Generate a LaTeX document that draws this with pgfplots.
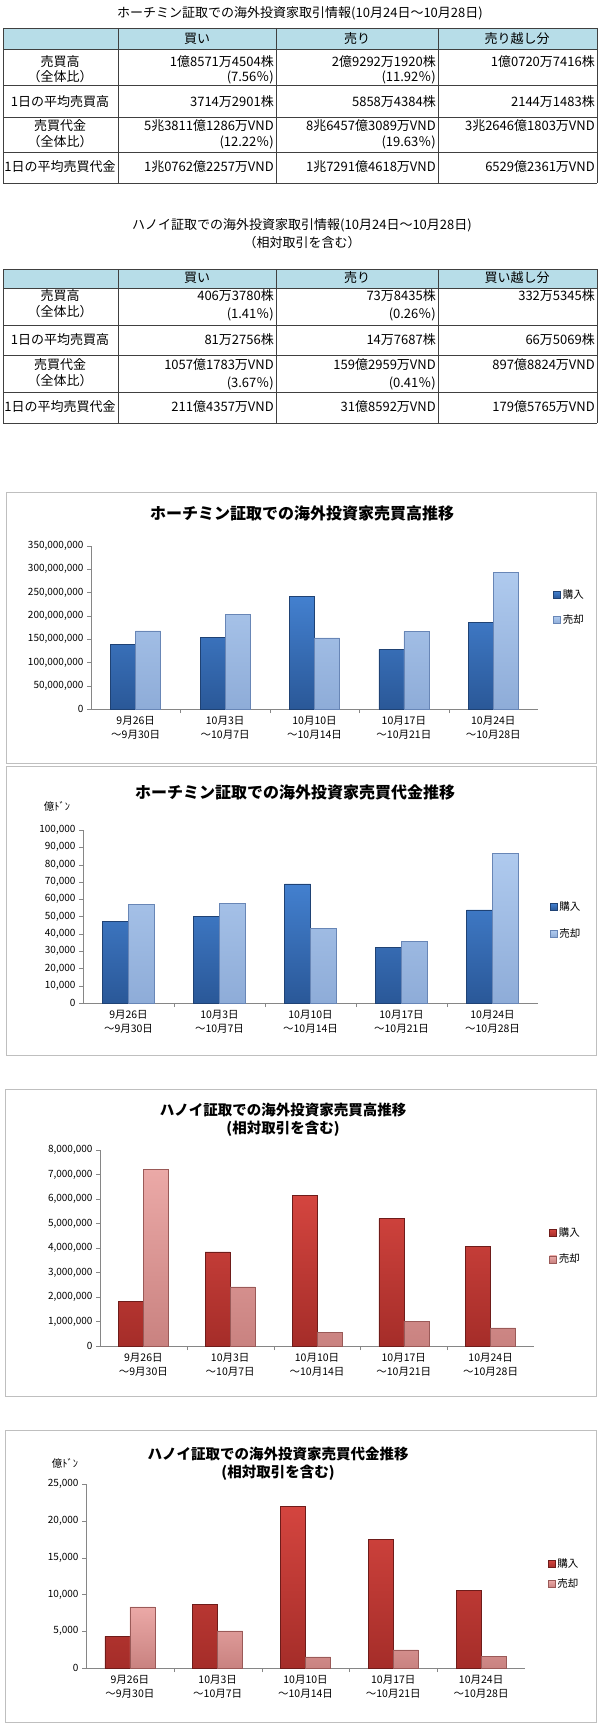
\documentclass[border=0pt]{standalone}
\usepackage{fontspec}
\setmainfont{Noto Sans CJK JP}
\usepackage{pgfplots}
\pgfplotsset{compat=1.18}

\definecolor{hdr}{HTML}{B7DDE8}
\definecolor{tline}{HTML}{404040}
\definecolor{boxgray}{HTML}{BFBFBF}
\definecolor{axisgray}{HTML}{868686}
\definecolor{bluetop}{HTML}{4380CF}
\definecolor{bluebot}{HTML}{2A5898}
\definecolor{blueedge}{HTML}{1F4274}
\definecolor{ltbluetop}{HTML}{AFCAEE}
\definecolor{ltbluebot}{HTML}{8EACD8}
\definecolor{ltblueedge}{HTML}{6886B6}
\definecolor{redtop}{HTML}{D4453F}
\definecolor{redbot}{HTML}{A52D29}
\definecolor{rededge}{HTML}{6E1C1A}
\definecolor{pinktop}{HTML}{EBA9A7}
\definecolor{pinkbot}{HTML}{C98280}
\definecolor{pinkedge}{HTML}{9A5A58}

\newcommand\tf{\fontsize{13}{15}\selectfont}
% table cells: right aligned value / centred text
\newcommand\R[3]{\node[anchor=east,inner sep=0pt,font=\tf] at (#1,-#2) {#3};}
\newcommand\C[3]{\node[inner sep=0pt,font=\tf] at (#1,-#2) {#3};}

\pgfplotsset{
  barchart/.style={
    scale only axis, anchor=south west,
    ybar=0pt,
    xmin=-0.5, xmax=4.5, ymin=0,
    scaled y ticks=false,
    axis x line*=bottom, axis y line*=left,
    axis line style={draw=axisgray},
    tick align=outside, major tick length=4pt,
    tick style={draw=axisgray},
    xtick={0.5,1.5,2.5,3.5}, xticklabels={},
    extra x ticks={0,1,2,3,4},
    extra x tick labels={{9月26日\\～9月30日},{10月3日\\～10月7日},{10月10日\\～10月14日},{10月17日\\～10月21日},{10月24日\\～10月28日}},
    extra x tick style={tick style={draw=none}},
    xticklabel style={align=center, font=\fontsize{10.5}{14}\selectfont},
    yticklabel style={font=\fontsize{10}{12}\selectfont},
    legend cell align=left,
    legend style={draw=none, fill=none, inner sep=0pt, anchor=west,
      font=\fontsize{10.5}{12}\selectfont},
    legend image code/.code={\draw[#1,line width=0.4pt] (0pt,-3.5pt) rectangle (7pt,3.5pt);},
  },
  buyblue/.style={draw=blueedge, line width=0.5pt, top color=bluetop, bottom color=bluebot},
  sellblue/.style={draw=ltblueedge, line width=0.5pt, top color=ltbluetop, bottom color=ltbluebot},
  buyred/.style={draw=rededge, line width=0.5pt, top color=redtop, bottom color=redbot},
  sellred/.style={draw=pinkedge, line width=0.5pt, top color=pinktop, bottom color=pinkbot},
}

\begin{document}
\begin{tikzpicture}[x=1pt,y=1pt]
\useasboundingbox (0,0) rectangle (600,-1728);
\fill[white] (0,0) rectangle (600,-1728);

% ---------- table 1 ----------
\node[font=\tf] at (300,-13) {ホーチミン証取での海外投資家取引情報(10月24日～10月28日)};
\fill[hdr] (3,-28) rectangle (597,-49);
\foreach \y in {28,49,85,117,152,183} \draw[tline] (3,-\y) -- (597,-\y);
\foreach \x in {3,118,276,438,597} \draw[tline] (\x,-28) -- (\x,-183);
\C{197}{39}{買い} \C{357}{39}{売り} \C{517}{39}{売り越し分}
\C{60}{62}{売買高} \C{60}{77}{（全体比）}
\C{60}{102}{1日の平均売買高}
\C{60}{126}{売買代金} \C{60}{142}{（全体比）}
\C{60}{167}{1日の平均売買代金}
\R{274}{62}{1億8571万4504株} \R{274}{77}{(7.56％)}
\R{436}{62}{2億9292万1920株} \R{436}{77}{(11.92％)}
\R{595}{62}{1億0720万7416株}
\R{274}{102}{3714万2901株} \R{436}{102}{5858万4384株} \R{595}{102}{2144万1483株}
\R{274}{126}{5兆3811億1286万VND} \R{274}{142}{(12.22％)}
\R{436}{126}{8兆6457億3089万VND} \R{436}{142}{(19.63％)}
\R{595}{126}{3兆2646億1803万VND}
\R{274}{167}{1兆0762億2257万VND} \R{436}{167}{1兆7291億4618万VND} \R{595}{167}{6529億2361万VND}

% ---------- table 2 ----------
\node[font=\tf] at (302,-225) {ハノイ証取での海外投資家取引情報(10月24日～10月28日)};
\node[font=\tf] at (302,-243) {（相対取引を含む）};
\fill[hdr] (3,-269) rectangle (597,-288);
\foreach \y in {269,288,325,355,392,423} \draw[tline] (3,-\y) -- (597,-\y);
\foreach \x in {3,118,276,438,597} \draw[tline] (\x,-269) -- (\x,-423);
\C{197}{278}{買い} \C{357}{278}{売り} \C{517}{278}{買い越し分}
\C{60}{296}{売買高} \C{60}{312}{（全体比）}
\C{60}{340}{1日の平均売買高}
\C{60}{365}{売買代金} \C{60}{381}{（全体比）}
\C{60}{407}{1日の平均売買代金}
\R{274}{296}{406万3780株} \R{274}{314}{(1.41％)}
\R{436}{296}{73万8435株} \R{436}{314}{(0.26％)}
\R{595}{296}{332万5345株}
\R{274}{340}{81万2756株} \R{436}{340}{14万7687株} \R{595}{340}{66万5069株}
\R{274}{365}{1057億1783万VND} \R{274}{383}{(3.67％)}
\R{436}{365}{159億2959万VND} \R{436}{383}{(0.41％)}
\R{595}{365}{897億8824万VND}
\R{274}{407}{211億4357万VND} \R{436}{407}{31億8592万VND} \R{595}{407}{179億5765万VND}

% ---------- chart frames and titles ----------
\draw[boxgray,line width=1pt] (6,-492) rectangle (596,-763);
\draw[boxgray,line width=1pt] (6,-766) rectangle (596,-1055);
\draw[boxgray,line width=1pt] (5,-1089) rectangle (596,-1396);
\draw[boxgray,line width=1pt] (5,-1430) rectangle (596,-1722);
\node[font=\bfseries\fontsize{16}{18}\selectfont] at (302,-513) {ホーチミン証取での海外投資家売買高推移};
\node[font=\bfseries\fontsize{16}{18}\selectfont] at (295,-792) {ホーチミン証取での海外投資家売買代金推移};
\node[font=\bfseries\fontsize{14.5}{17}\selectfont] at (283,-1110) {ハノイ証取での海外投資家売買高推移};
\node[font=\bfseries\fontsize{14.5}{17}\selectfont] at (283,-1129) {(相対取引を含む)};
\node[font=\bfseries\fontsize{14.5}{17}\selectfont] at (278,-1454) {ハノイ証取での海外投資家売買代金推移};
\node[font=\bfseries\fontsize{14.5}{17}\selectfont] at (278,-1473) {(相対取引を含む)};
\node[font=\fontsize{10.5}{12}\selectfont] at (57,-806) {億ﾄﾞﾝ};
\node[font=\fontsize{10.5}{12}\selectfont] at (65,-1463) {億ﾄﾞﾝ};

% ---------- chart 1: HCM volume ----------
\begin{axis}[barchart, at={(91pt,-709pt)}, width=447pt, height=163pt,
  bar width=25pt, ymax=350000000,
  ytick={0,50000000,100000000,150000000,200000000,250000000,300000000,350000000},
  yticklabels={0,{50,000,000},{100,000,000},{150,000,000},{200,000,000},{250,000,000},{300,000,000},{350,000,000}},
  legend style={at={(axis description cs:1.034,0.623)}, row sep=11pt}]
\addplot[buyblue] coordinates {(0,139000000) (1,154000000) (2,242000000) (3,128000000) (4,185714504)};
\addlegendentry{購入}
\addplot[sellblue] coordinates {(0,168000000) (1,203000000) (2,153000000) (3,166000000) (4,292921920)};
\addlegendentry{売却}
\end{axis}

% ---------- chart 2: HCM value ----------
\begin{axis}[barchart, at={(83pt,-1003pt)}, width=455pt, height=173pt,
  bar width=26pt, ymax=100000,
  ytick={0,10000,20000,30000,40000,50000,60000,70000,80000,90000,100000},
  yticklabels={0,{10,000},{20,000},{30,000},{40,000},{50,000},{60,000},{70,000},{80,000},{90,000},{100,000}},
  legend style={at={(axis description cs:1.026,0.477)}, row sep=13pt}]
\addplot[buyblue] coordinates {(0,47100) (1,50000) (2,68800) (3,32300) (4,53811)};
\addlegendentry{購入}
\addplot[sellblue] coordinates {(0,57100) (1,57700) (2,43100) (3,35600) (4,86457)};
\addlegendentry{売却}
\end{axis}

% ---------- chart 3: Hanoi volume ----------
\begin{axis}[barchart, at={(100pt,-1346pt)}, width=434pt, height=196pt,
  bar width=25pt, ymax=8000000,
  ytick={0,1000000,2000000,3000000,4000000,5000000,6000000,7000000,8000000},
  yticklabels={0,{1,000,000},{2,000,000},{3,000,000},{4,000,000},{5,000,000},{6,000,000},{7,000,000},{8,000,000}},
  legend style={at={(axis description cs:1.035,0.51)}, row sep=12pt}]
\addplot[buyred] coordinates {(0,1830000) (1,3840000) (2,6160000) (3,5200000) (4,4063780)};
\addlegendentry{購入}
\addplot[sellred] coordinates {(0,7220000) (1,2410000) (2,560000) (3,1020000) (4,738435)};
\addlegendentry{売却}
\end{axis}

% ---------- chart 4: Hanoi value ----------
\begin{axis}[barchart, at={(86pt,-1668pt)}, width=439pt, height=184pt,
  bar width=25pt, ymax=25000,
  ytick={0,5000,10000,15000,20000,25000},
  yticklabels={0,{5,000},{10,000},{15,000},{20,000},{25,000}},
  legend style={at={(axis description cs:1.052,0.511)}, row sep=6pt}]
\addplot[buyred] coordinates {(0,4310) (1,8620) (2,22000) (3,17470) (4,10571)};
\addlegendentry{購入}
\addplot[sellred] coordinates {(0,8300) (1,5040) (2,1500) (3,2450) (4,1593)};
\addlegendentry{売却}
\end{axis}
\end{tikzpicture}
\end{document}
